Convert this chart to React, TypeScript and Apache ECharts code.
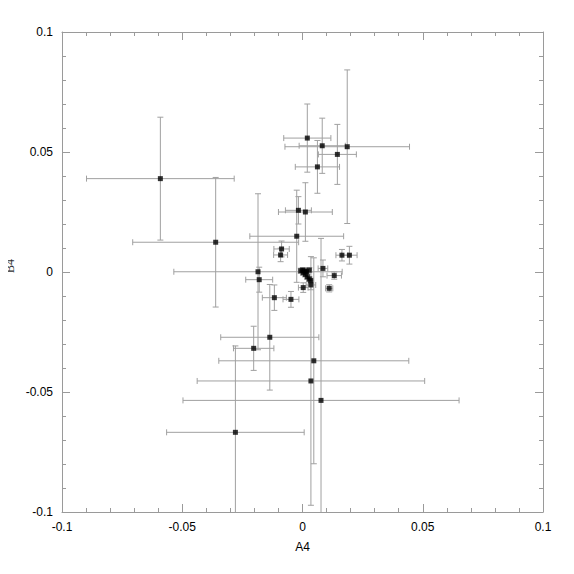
import React, { useEffect, useRef } from "react";
import * as echarts from "echarts";

const xVals = [
  -0.0591, -0.0361, -0.0185, -0.018, -0.0024, -0.0017, 0.0012, 0.002, 0.0082, 0.0186,
  0.0145, 0.0062, 0.0164, 0.0195, -0.0087, -0.0091, -0.0117, -0.0048, -0.0136, -0.0203,
  -0.0279, 0.0047, 0.0035, 0.0077, 0.0085, 0.0111, 0.0132, 0.0003, 0.0035,
  -0.0007, 0.0001, 0.0009, 0.0017, 0.0028, 0.0012, 0.002, 0.0028, 0.0034, 0.0003,
];
const yVals = [
  0.0389, 0.0124, 0.0001, -0.0032, 0.0149, 0.0257, 0.025, 0.0558, 0.0526, 0.0522,
  0.049, 0.0438, 0.007, 0.007, 0.0096, 0.0071, -0.0107, -0.0114, -0.0272, -0.0318,
  -0.0668, -0.037, -0.0454, -0.0535, 0.0015, -0.0068, -0.0015, -0.0065, -0.0054,
  0.0005, 0.0008, 0.0004, 0.0001, 0.0008, -0.001, -0.002, -0.0029, -0.0036, -0.0003,
];
const xErrs = [
  0.0307, 0.0345, 0.035, 0.0056, 0.0195, 0.0054, 0.0112, 0.0098, 0.0096, 0.0259,
  0.0079, 0.0092, 0.0025, 0.0032, 0.0032, 0.0029, 0.005, 0.0033, 0.0204, 0.0084,
  0.0286, 0.0395, 0.0473, 0.0574, 0.002, 0.0015, 0.003, 0.002, 0.002,
  0.001, 0.001, 0.001, 0.001, 0.001, 0.001, 0.001, 0.001, 0.001, 0.001,
];
const yErrs = [
  0.0256, 0.027, 0.0325, 0.0052, 0.0192, 0.0057, 0.0122, 0.0142, 0.0115, 0.032,
  0.0125, 0.011, 0.0024, 0.0037, 0.0033, 0.0028, 0.0053, 0.0033, 0.022, 0.0092,
  0.036, 0.0429, 0.0518, 0.0675, 0.0035, 0.0015, 0.0015, 0.002, 0.002,
  0.001, 0.001, 0.001, 0.001, 0.001, 0.001, 0.001, 0.001, 0.001, 0.001,
];
const xName = "A4";
const yName = "B4";

export default function App() {
  const ref = useRef<HTMLDivElement>(null);
  useEffect(() => {
    if (!ref.current) return;
    const chart = echarts.init(ref.current, null, { renderer: "svg" });
    const pts = xVals.map((x, i) => [x, yVals[i]]);
    const errData = xVals.map((x, i) => [x, yVals[i], xErrs[i], yErrs[i]]);
    const axisColor = "#9a9a9a";
    const errColor = "#a0a0a0";
    const labelStyle = { color: "#000", fontFamily: "Liberation Sans, Arial, sans-serif", fontSize: 12 };
    const baseAxis = (extra: any) => ({
      type: "value",
      min: -0.1,
      max: 0.1,
      interval: 0.05,
      splitLine: { show: false },
      axisLine: { show: true, onZero: false, lineStyle: { color: axisColor, width: 1 } },
      axisTick: { show: true, inside: true, length: 8, lineStyle: { color: axisColor } },
      minorTick: { show: true, splitNumber: 5, length: 4, lineStyle: { color: axisColor } },
      ...extra,
    });
    const cap = 3;
    chart.setOption({
      animation: false,
      backgroundColor: "#fff",
      grid: { left: 62, right: 31, top: 32, bottom: 62, containLabel: false, outerBoundsMode: "none" },
      graphic: [
        {
          type: "text",
          x: 10,
          y: 266,
          rotation: Math.PI / 2,
          style: {
            text: yName,
            fill: "#333",
            font: "12px 'Liberation Serif', serif",
            textAlign: "center",
            textVerticalAlign: "middle",
          },
        },
      ],
      xAxis: [
        baseAxis({
          position: "bottom",
          name: xName,
          nameLocation: "middle",
          nameGap: 29,
          nameTextStyle: { ...labelStyle },
          axisLabel: { ...labelStyle, margin: 9 },
        }),
        baseAxis({ position: "top", axisLabel: { show: false } }),
      ],
      yAxis: [
        baseAxis({
          position: "left",
          axisLabel: { ...labelStyle, margin: 9, padding: [4, 0, 0, 0] },
        }),
        baseAxis({ position: "right", axisLabel: { show: false } }),
      ],
      series: [
        {
          type: "custom",
          clip: true,
          data: errData,
          z: 1,
          renderItem: (params: any, api: any) => {
            const x = api.value(0);
            const y = api.value(1);
            const ex = api.value(2);
            const ey = api.value(3);
            const l = api.coord([x - ex, y]);
            const r = api.coord([x + ex, y]);
            const t = api.coord([x, y + ey]);
            const b = api.coord([x, y - ey]);
            const style = { stroke: errColor, lineWidth: 1 };
            const ln = (x1: number, y1: number, x2: number, y2: number) => ({
              type: "line",
              shape: { x1, y1, x2, y2 },
              style,
            });
            return {
              type: "group",
              children: [
                ln(l[0], l[1], r[0], r[1]),
                ln(l[0], l[1] - cap, l[0], l[1] + cap),
                ln(r[0], r[1] - cap, r[0], r[1] + cap),
                ln(t[0], t[1], b[0], b[1]),
                ln(t[0] - cap, t[1], t[0] + cap, t[1]),
                ln(b[0] - cap, b[1], b[0] + cap, b[1]),
              ],
            };
          },
        },
        {
          type: "scatter",
          data: pts,
          symbol: "rect",
          symbolSize: 5,
          itemStyle: { color: "#000" },
          z: 3,
        },
      ],
    });
    return () => chart.dispose();
  }, []);
  return <div ref={ref} style={{ width: 574, height: 574, margin: -8 }} />;
}
